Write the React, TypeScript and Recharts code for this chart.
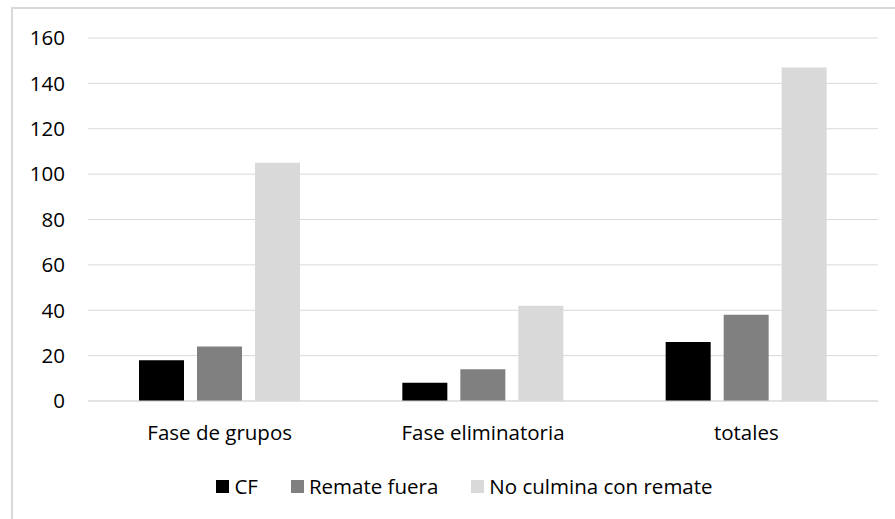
import { BarChart, Bar, XAxis, YAxis, CartesianGrid } from 'recharts';

const categories = ['Fase de grupos', 'Fase eliminatoria', 'totales'];
const cf = [18, 8, 26];
const remateFuera = [24, 14, 38];
const noCulmina = [105, 42, 147];
const yTicks = [0, 20, 40, 60, 80, 100, 120, 140, 160];

const series = [
  { key: 'cf', name: 'CF', color: '#000000', values: cf },
  { key: 'remate', name: 'Remate fuera', color: '#808080', values: remateFuera },
  { key: 'noCulmina', name: 'No culmina con remate', color: '#d9d9d9', values: noCulmina },
];

const data = categories.map((name, i) => {
  const row: Record<string, string | number> = { name };
  series.forEach(s => { row[s.key] = s.values[i]; });
  return row;
});

const font = '"Open Sans", Lato, sans-serif';
const fs = 20.5;

export default function App() {
  return (
    <div style={{ position: 'fixed', left: 0, top: 0, width: 895, height: 519, background: '#fff', fontFamily: font }}>
      <div style={{ position: 'absolute', left: 11, top: 7, right: 0, bottom: 0, borderLeft: '2px solid #d9d9d9', borderTop: '2px solid #d9d9d9' }} />
      <BarChart
        width={895}
        height={519}
        data={data}
        margin={{ top: 38, right: 17, bottom: 78, left: 0 }}
        barSize={45}
        barGap={13}
        style={{ position: 'absolute', left: 0, top: 0 }}
      >
        <CartesianGrid vertical={false} stroke="#d9d9d9" strokeWidth={1} />
        <XAxis
          dataKey="name"
          height={40}
          tickLine={false}
          axisLine={{ stroke: '#d9d9d9' }}
          tickSize={0}
          tickMargin={24}
          tick={{ fill: '#000', fontSize: fs, fontFamily: font }}
        />
        <YAxis
          width={88}
          domain={[0, 160]}
          ticks={yTicks}
          interval={0}
          tickLine={false}
          axisLine={false}
          tickSize={0}
          tickMargin={23}
          tick={{ fill: '#000', fontSize: fs, fontFamily: font }}
        />
        {series.map(s => (
          <Bar key={s.key} dataKey={s.key} name={s.name} fill={s.color} isAnimationActive={false} />
        ))}
      </BarChart>
      <div style={{ position: 'absolute', left: 0, width: 895, top: 472, display: 'flex', justifyContent: 'center', paddingLeft: 34, boxSizing: 'border-box', fontSize: fs, color: '#000' }}>
        {series.map((s, i) => (
          <div key={s.key} style={{ display: 'flex', alignItems: 'center', marginLeft: i === 0 ? 0 : 33 }}>
            <span style={{ display: 'inline-block', width: 13, height: 13, background: s.color, marginRight: 5 }} />
            <span style={{ lineHeight: '28px' }}>{s.name}</span>
          </div>
        ))}
      </div>
    </div>
  );
}
